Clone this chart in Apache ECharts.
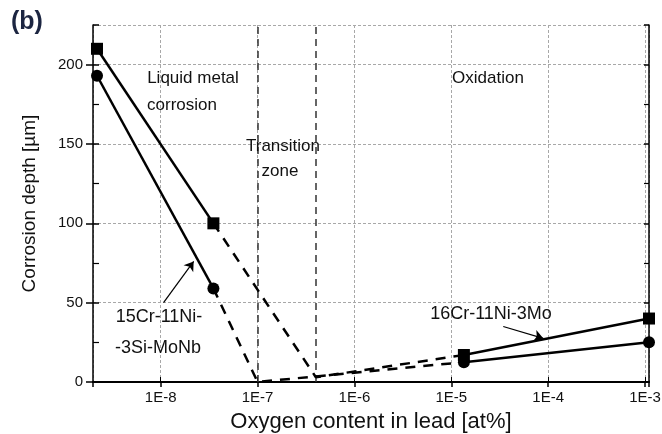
<!DOCTYPE html>
<html>
<head>
<meta charset="utf-8">
<script src="https://cdn.jsdelivr.net/npm/echarts@6/dist/echarts.min.js"></script>
<style>
html,body{margin:0;padding:0;background:#fff;}
#chart{width:662px;height:434px;}
</style>
</head>
<body>
<div id="chart"></div>
<script>
// ---- data ----
const squareSolidA = [[2.2e-9, 210], [3.5e-8, 100]];
const squareDashed = [[3.5e-8, 100], [4.0e-7, 3], [1.35e-5, 17]];
const squareSolidB = [[1.35e-5, 17], [1.1e-3, 40]];
const circleSolidA = [[2.2e-9, 193], [3.5e-8, 59]];
const circleDashed = [[3.5e-8, 59], [1.0e-7, 0], [1.35e-5, 12.5]];
const circleSolidB = [[1.35e-5, 12.5], [1.1e-3, 25]];
const zoneBounds = [1e-7, 4e-7];
const arrowA = [[1.07e-8, 50], [2.19e-8, 76]];
const arrowB = [[3.44e-5, 35], [8.9e-5, 27.5]];
const xRange = [2e-9, 1.1e-3];
const yRange = [0, 225];
const yTickStep = 50;

const FONT = 'Liberation Sans, Arial, sans-serif';
const chart = echarts.init(document.getElementById('chart'));

const gridLine = {show: true, lineStyle: {color: '#a8a8a8', type: [3, 2], width: 1}};
const solidLine = {color: '#000', width: 2.5, type: 'solid'};
const dashLine = {color: '#000', width: 2.5, type: [10, 8]};

function lineSeries(data, style, symbol) {
  return {
    type: 'line', data: data, xAxisIndex: 0, yAxisIndex: 0,
    symbol: symbol || 'none', symbolSize: 12, showSymbol: !!symbol,
    itemStyle: {color: '#000'}, lineStyle: style, clip: false, z: 5
  };
}
function arrowMark(pts) {
  return {
    symbol: ['none', 'arrow'], symbolSize: 9, silent: true,
    label: {show: false}, itemStyle: {color: '#000'},
    lineStyle: {color: '#000', width: 1.2, type: 'solid'},
    data: [[{coord: pts[0]}, {coord: pts[1]}]]
  };
}

const sA = lineSeries(squareSolidA, solidLine, 'rect');
const sD = lineSeries(squareDashed, dashLine, null);
const sB = lineSeries(squareSolidB, solidLine, 'rect');
sB.markLine = arrowMark(arrowB);
const cA = lineSeries(circleSolidA, solidLine, 'circle');
cA.markLine = arrowMark(arrowA);
const cD = lineSeries(circleDashed, dashLine, null);
cD.markLine = {
  symbol: ['none', 'none'], silent: true, label: {show: false},
  lineStyle: {color: '#333', width: 1.5, type: [7, 5]},
  data: zoneBounds.map(v => [{coord: [v, yRange[0]]}, {coord: [v, yRange[1]]}])
};
const cB = lineSeries(circleSolidB, solidLine, 'circle');

const textStyle = (s, x, y, size) => ({
  type: 'text', x: x, y: y, z: 10,
  style: {text: s, font: (size || 17) + 'px ' + FONT, fill: '#111', textAlign: 'center', textVerticalAlign: 'middle'}
});

chart.setOption({
  animation: false,
  backgroundColor: '#fff',
  grid: {left: 93, right: 13, top: 25, bottom: 52, containLabel: false, outerBoundsMode: 'none'},
  xAxis: [{
    type: 'log', logBase: 10, min: xRange[0], max: xRange[1],
    name: 'Oxygen content in lead [at%]', nameLocation: 'middle', nameGap: 29,
    nameTextStyle: {fontFamily: FONT, fontSize: 22, color: '#111'},
    axisLine: {show: true, lineStyle: {color: '#000', width: 2}},
    axisTick: {show: true, inside: true, length: 5, lineStyle: {color: '#000'}},
    axisLabel: {fontFamily: FONT, fontSize: 15, color: '#111', margin: 8,
      showMinLabel: false, showMaxLabel: false,
      formatter: v => '1E' + Math.round(Math.log10(v))},
    splitLine: gridLine, minorTick: {show: false}
  }, {
    type: 'log', logBase: 10, min: xRange[0], max: xRange[1], position: 'top',
    axisLine: {show: true, lineStyle: {color: '#000', width: 1.5}},
    axisTick: {show: true, inside: true, length: 5, lineStyle: {color: '#000', width: 1.5}},
    axisLabel: {show: false}, splitLine: {show: false}
  }],
  yAxis: [{
    type: 'value', min: yRange[0], max: yRange[1], interval: yTickStep,
    name: 'Corrosion depth [µm]', nameLocation: 'middle', nameGap: 54,
    nameTextStyle: {fontFamily: FONT, fontSize: 19, color: '#111'},
    axisLine: {show: true, lineStyle: {color: '#000', width: 1.5}},
    axisTick: {show: true, inside: false, length: 7, lineStyle: {color: '#000', width: 1.5}},
    axisLabel: {fontFamily: FONT, fontSize: 15, color: '#111', margin: 10, showMaxLabel: false},
    splitLine: gridLine
  }, {
    type: 'value', min: yRange[0], max: yRange[1], interval: yTickStep, position: 'right',
    axisLine: {show: true, lineStyle: {color: '#000', width: 1.5}},
    axisTick: {show: true, inside: true, length: 5, lineStyle: {color: '#000', width: 1.5}},
    minorTick: {show: true, splitNumber: 2, length: 5, lineStyle: {color: '#000', width: 1.2}},
    axisLabel: {show: false}, splitLine: {show: false}
  }, {
    type: 'value', min: yRange[0], max: yRange[1], interval: yTickStep, position: 'left',
    axisLine: {show: false},
    axisTick: {show: true, inside: true, length: 6, lineStyle: {color: '#000', width: 1.5}},
    minorTick: {show: true, splitNumber: 2, length: 6, lineStyle: {color: '#000', width: 1.2}},
    axisLabel: {show: false}, splitLine: {show: false}
  }],
  series: [sA, sD, sB, cA, cD, cB],
  graphic: [
    {type: 'text', x: 11, y: 10, style: {text: '(b)', font: 'bold 25px ' + FONT, fill: '#1c2541'}},
    textStyle('Liquid metal', 193, 78),
    textStyle('corrosion', 182, 105),
    textStyle('Transition', 283, 146),
    textStyle('zone', 280, 171),
    textStyle('Oxidation', 488, 78),
    textStyle('15Cr-11Ni-', 159, 317, 18),
    textStyle('-3Si-MoNb', 158, 348, 18),
    textStyle('16Cr-11Ni-3Mo', 491, 314, 18)
  ]
});
</script>
</body>
</html>
